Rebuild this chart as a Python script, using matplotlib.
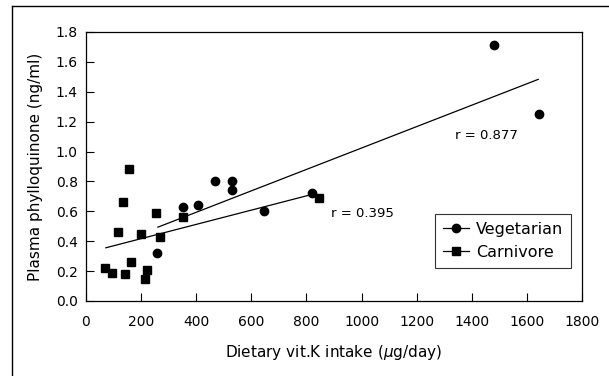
import numpy as np
import matplotlib
matplotlib.use('Agg')
import matplotlib.pyplot as plt
from matplotlib.lines import Line2D

plt.rcParams['font.family'] = ['DejaVu Sans']

# vegetarian group
veg_x = [259, 352, 407, 469, 531, 530, 645, 820, 1482, 1645]
veg_y = [0.32, 0.63, 0.64, 0.80, 0.80, 0.74, 0.60, 0.72, 1.71, 1.25]

# carnivore group
carn_x = [69, 95, 140, 117, 135, 155, 163, 199, 220, 213, 253, 269, 353, 846]
carn_y = [0.22, 0.19, 0.18, 0.46, 0.66, 0.88, 0.26, 0.45, 0.21, 0.15, 0.59, 0.43, 0.56, 0.69]

# fitted lines
veg_fit_x = [261, 1641]
veg_fit_y = [0.494, 1.483]
carn_fit_x = [72, 820]
carn_fit_y = [0.356, 0.713]

r_labels = ['r = 0.877', 'r = 0.395']
r_pos = [(1340, 1.107), (888, 0.588)]

x_ticks = np.arange(0, 2000, 200)
y_ticks = np.arange(0, 2.0, 0.2)

fig = plt.figure(figsize=(6.09, 3.76), dpi=100)
ax = fig.add_axes([0.1412, 0.1995, 0.8145, 0.7154])

ax.plot(veg_fit_x, veg_fit_y, color='black', lw=0.9)
ax.plot(carn_fit_x, carn_fit_y, color='black', lw=0.9)
ax.plot(veg_x, veg_y, 'o', color='black', ms=6, label='Vegetarian')
ax.plot(carn_x, carn_y, 's', color='black', ms=6, label='Carnivore')

for txt, (tx, ty) in zip(r_labels, r_pos):
    ax.text(tx, ty, txt, fontsize=9.5, va='center', ha='left')

ax.set_xlim(0, 1800)
ax.set_ylim(0, 1.8)
ax.set_xticks(x_ticks)
ax.set_yticks(y_ticks)
ax.set_yticklabels(['%.1f' % v for v in y_ticks])
ax.tick_params(direction='in', length=6, width=0.8, labelsize=10)
ax.tick_params(axis='x', pad=10)
ax.tick_params(axis='y', pad=6)
for s in ax.spines.values():
    s.set_linewidth(0.9)

ax.set_xlabel('Dietary vit.K intake ($\\mu$g/day)', fontsize=11, labelpad=10)
ax.set_ylabel('Plasma phylloquinone (ng/ml)', fontsize=11, labelpad=9)

handles = [Line2D([0], [0], color='black', marker='o', ms=6, lw=0.9),
           Line2D([0], [0], color='black', marker='s', ms=6, lw=0.9)]
leg = ax.legend(handles, ['Vegetarian', 'Carnivore'], loc='lower right',
                bbox_to_anchor=(0.978, 0.123), borderaxespad=0, fontsize=11.5,
                frameon=True, fancybox=False, edgecolor='black',
                handlelength=1.6, handletextpad=0.45, borderpad=0.5,
                labelspacing=0.5)
leg.get_frame().set_linewidth(0.8)

# outer frame (top and left edges)
fig.add_artist(Line2D([12/609, 1.0], [1 - 6/376, 1 - 6/376], color='black', lw=1.0))
fig.add_artist(Line2D([12/609, 12/609], [0.0, 1 - 6/376], color='black', lw=1.0))

fig.savefig('out.png', dpi=100)
